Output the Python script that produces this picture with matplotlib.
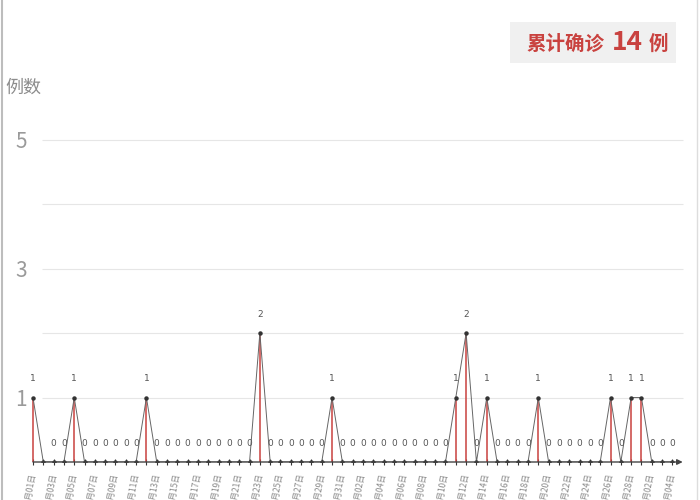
import matplotlib
matplotlib.use('Agg')
import matplotlib.pyplot as plt
from matplotlib.lines import Line2D
from matplotlib.patches import Rectangle

plt.rcParams['font.family'] = ['Noto Sans CJK SC', 'DejaVu Sans']

# 每日新增确诊 (1月01日 - 3月04日)
months = [1] * 31 + [2] * 28 + [3] * 4
days = list(range(1, 32)) + list(range(1, 29)) + list(range(1, 5))
dates = ['%d月%02d日' % (m, d) for m, d in zip(months, days)]
cases = [1, 0, 0, 0, 1, 0, 0, 0, 0, 0, 0, 1, 0, 0, 0, 0, 0, 0, 0, 0,
         0, 0, 2, 0, 0, 0, 0, 0, 0, 1, 0, 0, 0, 0, 0, 0, 0, 0, 0, 0,
         0, 1, 2, 0, 1, 0, 0, 0, 0, 1, 0, 0, 0, 0, 0, 0, 1, 0, 1, 1,
         0, 0, 0]
total = sum(cases)
y_ticks = [1, 3, 5]

red = '#c9423f'
x = list(range(len(cases)))

fig = plt.figure(figsize=(7, 5), dpi=100)
ax = fig.add_axes([0.0427, 0.076, 0.937, 0.722])
ax.set_xlim(-0.3, 63.3)
ax.set_ylim(0, 5.6)

# 网格线
ax.hlines(range(1, 6), 0.85, 63.0, color='#e6e6e6', lw=0.8, zorder=0)

# 红色竖线 + 折线
ax.vlines(x, 0, cases, color=red, lw=1.3, alpha=0.85, zorder=2)
ax.plot(x, cases, color='#666666', lw=0.7, marker='o', ms=2.2,
        mfc='#333333', mec='#333333', zorder=3)

for i, v in enumerate(cases):
    if i == 1:
        continue
    ax.annotate(str(v), (i, v), xytext=(0, 19), textcoords='offset pixels',
                ha='center', va='center', fontsize=6.5, color='#555555',
                family='DejaVu Sans')

# x 轴箭头
ax.annotate('', xy=(63.0, 0), xytext=(0, 0),
            arrowprops=dict(arrowstyle='-|>', color='#444444', lw=1.0,
                            mutation_scale=8, shrinkA=0, shrinkB=0),
            zorder=4)

ax.set_xticks(x)
ax.set_xticklabels([d if i % 2 == 0 else '' for i, d in enumerate(dates)],
                   rotation=80, ha='right', va='center', rotation_mode='anchor',
                   fontsize=6, color='#888888')
ax.tick_params(axis='x', length=4, direction='inout', color='#333333',
               width=0.8, pad=6)
ax.set_yticks(y_ticks)
ax.set_yticklabels([str(t) for t in y_ticks], fontsize=15, color='#9a9a9a')
ax.tick_params(axis='y', length=0, pad=2)
for s in ax.spines.values():
    s.set_visible(False)

fig.text(0.007, 0.824, '例数', fontsize=13, color='#8c8c8c', va='center', ha='left')

# 右上角累计
fig.add_artist(Rectangle((0.729, 0.874), 0.236, 0.082, transform=fig.transFigure,
                         facecolor='#f0f0f0', edgecolor='none'))
fig.text(0.752, 0.912, '累计确诊', fontsize=14, color=red, fontweight='bold',
         va='center', ha='left')
fig.text(0.874, 0.914, str(total), fontsize=19, color=red, fontweight='bold',
         va='center', ha='left')
fig.text(0.927, 0.912, '例', fontsize=14, color=red, fontweight='bold',
         va='center', ha='left')

# 边框
fig.add_artist(Line2D([0.003, 0.003], [0, 1], transform=fig.transFigure,
                      color='#bdbdbd', lw=1.5))
fig.add_artist(Line2D([0.996, 0.996], [0, 1], transform=fig.transFigure,
                      color='#dddddd', lw=1.0))

fig.savefig('out.png', dpi=100)
